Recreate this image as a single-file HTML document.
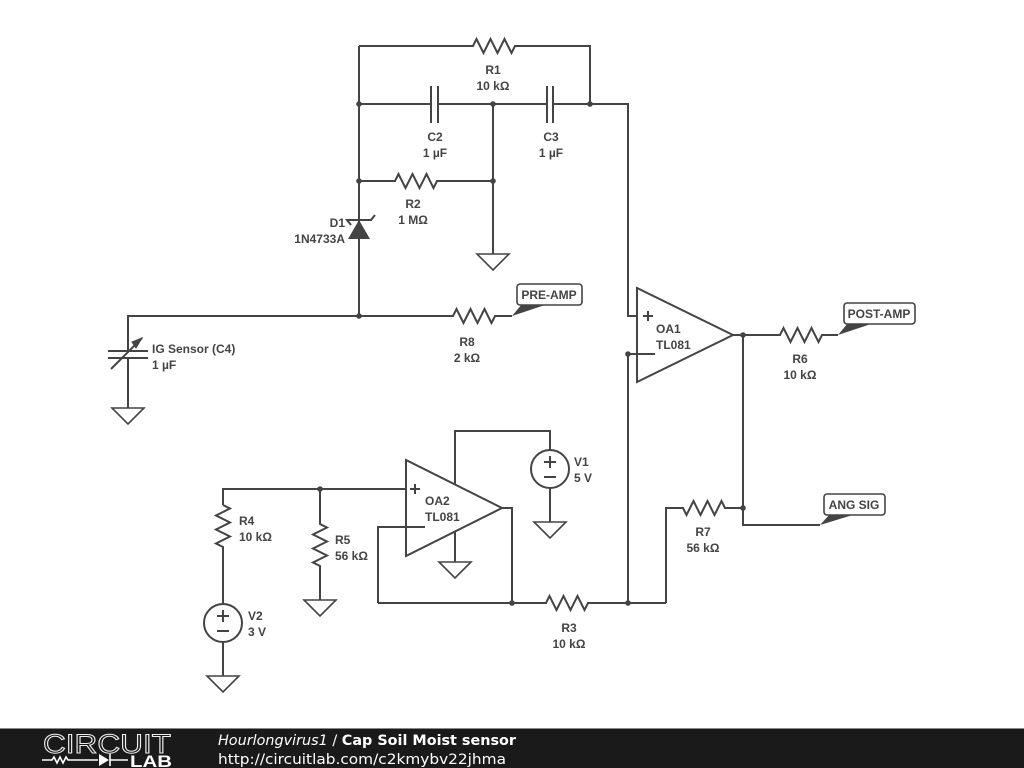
<!DOCTYPE html>
<html><head><meta charset="utf-8"><style>
html,body{margin:0;padding:0;background:#fff;width:1024px;height:768px;overflow:hidden}
svg{display:block}
text{font-family:"Liberation Sans",sans-serif;font-size:12px;font-weight:bold;fill:#444}
</style></head><body>
<svg width="1024" height="768" viewBox="0 0 1024 768">
<defs>
<g id="gnd"><path d="M-16 0 H16 L0 16 Z" fill="#fff" stroke="#444" stroke-width="1.6"/></g>
</defs>
<g stroke="#444" stroke-width="2" fill="none">
<path d="M359 46 H473 l3.5 -7 l7 14 l7 -14 l7 14 l7 -14 l7 14 l3.5 -7 H590 V104"/>
<path d="M359 104 H431 M438 104 H547 M553 104 H628 V316 H637"/>
<path d="M431 86 V123 M438 86 V123 M547 86 V123 M553 86 V123"/>
<path d="M359 181 H395 l3.5 -7 l7 14 l7 -14 l7 14 l7 -14 l7 14 l3.5 -7 H493"/>
<path d="M493 104 V254"/>
<path d="M359 46 V316"/>
<path d="M351 225 L347 220 H371 L375 215"/>
<path d="M128 345 V316 H453 l3.5 -7 l7 14 l7 -14 l7 14 l7 -14 l7 14 l3.5 -7 H512"/>
<path d="M128 351 V345 M108 351 H148 M108 358 H148 M128 358 V408"/>
<path d="M111 369 L142 338"/>
<path d="M637 288 V382 L733 335 Z"/>
<path d="M628 354 H655 M628 354 V603"/>
<path d="M643 316 H653 M648 311 V321"/>
<path d="M733 335 H780 l3.5 -7 l7 14 l7 -14 l7 14 l7 -14 l7 14 l3.5 -7 H838"/>
<path d="M743 335 V525 H820"/>
<path d="M743 508 H725 l-3.5 -7 l-7 14 l-7 -14 l-7 14 l-7 -14 l-7 14 l-3.5 -7 H666 V603"/>
<path d="M378 603 H546 l3.5 -7 l7 14 l7 -14 l7 14 l7 -14 l7 14 l3.5 -7 H666"/>
<path d="M406 460 V556 L502 508 Z"/>
<path d="M223 505 V489 H406"/>
<path d="M410 489 H420 M415 484 V494"/>
<path d="M378 603 V527 H425"/>
<path d="M502 508 H512 V603"/>
<path d="M455 484 V431 H550 V450 M550 488 V522"/>
<path d="M455 532 V562"/>
<circle cx="550" cy="469" r="19"/>
<path d="M544 462 H556 M550 456 V468 M544 477 H556"/>
<path d="M223 505 l7 3.5 l-14 7 l14 7 l-14 7 l14 7 l-14 7 l7 3.5 V604"/>
<circle cx="223" cy="623" r="19"/>
<path d="M217 616 H229 M223 610 V622 M217 631 H229 M223 642 V676"/>
<path d="M320 489 V524 l7 3.5 l-14 7 l14 7 l-14 7 l14 7 l-14 7 l7 3.5 V600"/>
</g>
<path d="M359 220 L370 239 H348 Z" fill="#444"/>
<path d="M142 338 L136 348 L132 342 Z" fill="#444" stroke="#444" stroke-width="1"/>
<use href="#gnd" x="493" y="254"/>
<use href="#gnd" x="128" y="408"/>
<use href="#gnd" x="550" y="522"/>
<use href="#gnd" x="455" y="562"/>
<use href="#gnd" x="320" y="600"/>
<use href="#gnd" x="223" y="676"/>
<g fill="#444">
<circle cx="359" cy="104" r="2.8"/><circle cx="493" cy="104" r="2.8"/><circle cx="590" cy="104" r="2.8"/>
<circle cx="359" cy="181" r="2.8"/><circle cx="493" cy="181" r="2.8"/><circle cx="359" cy="316" r="2.8"/>
<circle cx="628" cy="354" r="2.8"/><circle cx="743" cy="335" r="2.8"/><circle cx="743" cy="508" r="2.8"/>
<circle cx="320" cy="489" r="2.8"/><circle cx="512" cy="603" r="2.8"/><circle cx="628" cy="603" r="2.8"/>
</g>
<g fill="#444">
<path d="M512 316 L522 304 H548 Z"/>
<path d="M838 335 L848 323 H874 Z"/>
<path d="M820 525 L830 514 H856 Z"/>
</g>
<g fill="#fff" stroke="#444" stroke-width="1.6">
<rect x="517" y="284" width="65" height="21" rx="3"/>
<rect x="844" y="303" width="71" height="21" rx="3"/>
<rect x="824" y="494" width="61" height="21" rx="3"/>
</g>
<text x="549" y="299" text-anchor="middle">PRE-AMP</text>
<text x="879" y="318" text-anchor="middle">POST-AMP</text>
<text x="854" y="509" text-anchor="middle">ANG SIG</text>
<g text-anchor="middle">
<text x="493" y="74">R1</text><text x="493" y="90">10 kΩ</text>
<text x="435" y="141">C2</text><text x="435" y="157">1 µF</text>
<text x="551" y="141">C3</text><text x="551" y="157">1 µF</text>
<text x="413" y="208">R2</text><text x="413" y="224">1 MΩ</text>
<text x="467" y="346">R8</text><text x="467" y="362">2 kΩ</text>
<text x="800" y="363">R6</text><text x="800" y="379">10 kΩ</text>
<text x="703" y="536">R7</text><text x="703" y="552">56 kΩ</text>
<text x="569" y="632">R3</text><text x="569" y="648">10 kΩ</text>
</g>
<g text-anchor="end"><text x="345" y="227">D1</text><text x="345" y="243">1N4733A</text></g>
<text x="152" y="353">IG Sensor (C4)</text><text x="152" y="369">1 µF</text>
<text x="656" y="333">OA1</text><text x="656" y="349">TL081</text>
<text x="425" y="505">OA2</text><text x="425" y="521">TL081</text>
<text x="574" y="466">V1</text><text x="574" y="482">5 V</text>
<text x="239" y="525">R4</text><text x="239" y="541">10 kΩ</text>
<text x="335" y="544">R5</text><text x="335" y="560">56 kΩ</text>
<text x="248" y="620">V2</text><text x="248" y="636">3 V</text>
<rect x="0" y="729" width="1024" height="39" fill="#1a1a1a"/>
<rect x="0" y="728" width="1024" height="1" fill="#888"/>
<text x="43" y="753" textLength="128" lengthAdjust="spacingAndGlyphs" style="font-size:27px;font-weight:normal;fill:none;stroke:#eee;stroke-width:1">CIRCUIT</text>
<g stroke="#fff" stroke-width="1.6" fill="none">
<path d="M42 760 H52 l2 -3 l3 6 l3 -6 l3 6 l3 -6 l2 3 H98 M110 754 V766"/>
</g>
<path d="M99 754 L109 760 L99 766 Z" fill="#fff"/>
<path d="M110 760 H128" stroke="#fff" stroke-width="1.6"/>
<text x="130" y="767" textLength="42" lengthAdjust="spacingAndGlyphs" style="font-size:17px;fill:#fff;font-weight:bold">LAB</text>
<text x="218" y="745" textLength="298" lengthAdjust="spacingAndGlyphs" style="font-family:'DejaVu Sans',sans-serif;font-size:14px;fill:#fff;font-weight:normal"><tspan font-style="italic">Hourlongvirus1</tspan> / <tspan font-weight="bold">Cap Soil Moist sensor</tspan></text>
<text x="218" y="764" textLength="288" lengthAdjust="spacingAndGlyphs" style="font-family:'DejaVu Sans',sans-serif;font-size:14px;fill:#fff;font-weight:normal">http://circuitlab.com/c2kmybv22jhma</text>
</svg>
</body></html>
